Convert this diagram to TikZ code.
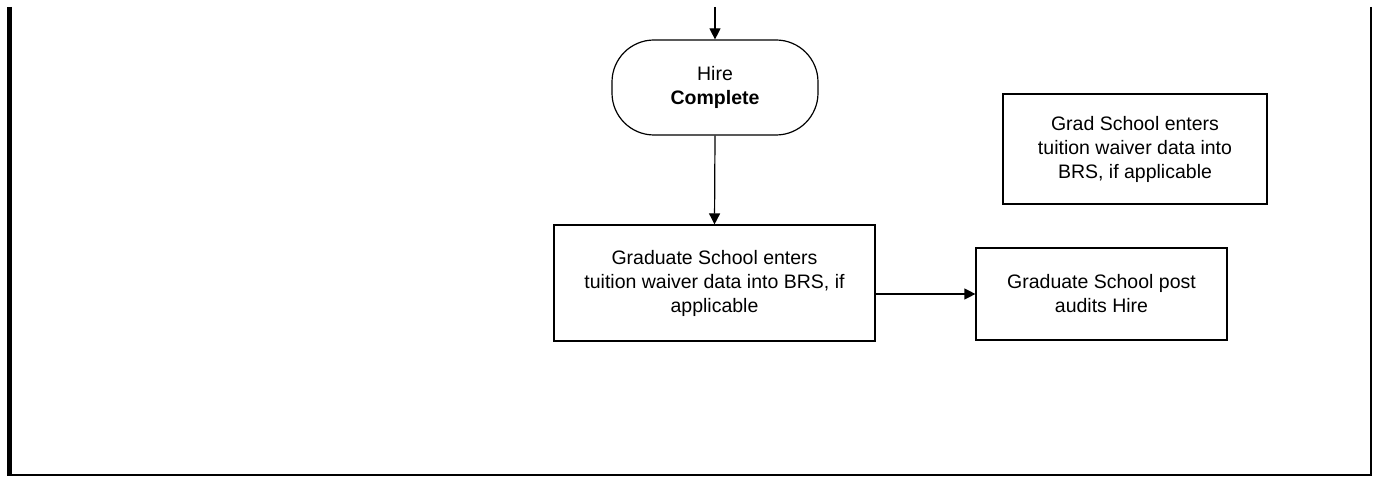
\documentclass[tikz,border=0pt]{standalone}
\usepackage{fontspec}
\setmainfont{Liberation Sans}
\usetikzlibrary{arrows.meta}
\begin{document}
\begin{tikzpicture}[x=1pt,y=-1pt,
  every node/.style={font=\fontsize{19.5}{24}\selectfont, align=center, inner sep=0pt},
  procbox/.style={draw, line width=1.2pt, minimum width=#1},
  conn/.style={line width=1.2pt, -{Triangle[length=11pt,width=11pt]}},
  frameline/.style={line width=#1, draw=black}]
\useasboundingbox (0,0) rectangle (1373,478);
\fill[white] (0,0) rectangle (1373,478);
% frame
\draw[frameline=5pt] (9,7) -- (9,476);
\draw[frameline=2pt] (8,475) -- (1372,475);
\draw[frameline=2pt] (1371,7) -- (1371,476);
% nodes
\coordinate (top) at (715,7);
\node[draw, line width=1.2pt, rounded corners=42pt, minimum width=206pt, minimum height=95pt] (hire) at (715,87.5) {Hire\\\textbf{Complete}};
\node[procbox=321pt, minimum height=116pt] (enter) at (714.5,283) {Graduate School enters\\tuition waiver data into BRS, if\\applicable};
\node[procbox=251pt, minimum height=92pt] (audit) at (1101.5,294) {Graduate School post\\audits Hire};
\node[procbox=264pt, minimum height=110pt] (grad) at (1135,149) {Grad School enters\\tuition waiver data into\\BRS, if applicable};
% connectors
\draw[conn] (top) -- (hire.north);
\draw[conn] (hire.south) -- (enter.north);
\draw[conn] (enter.east |- audit.west) -- (audit.west);
\end{tikzpicture}
\end{document}
